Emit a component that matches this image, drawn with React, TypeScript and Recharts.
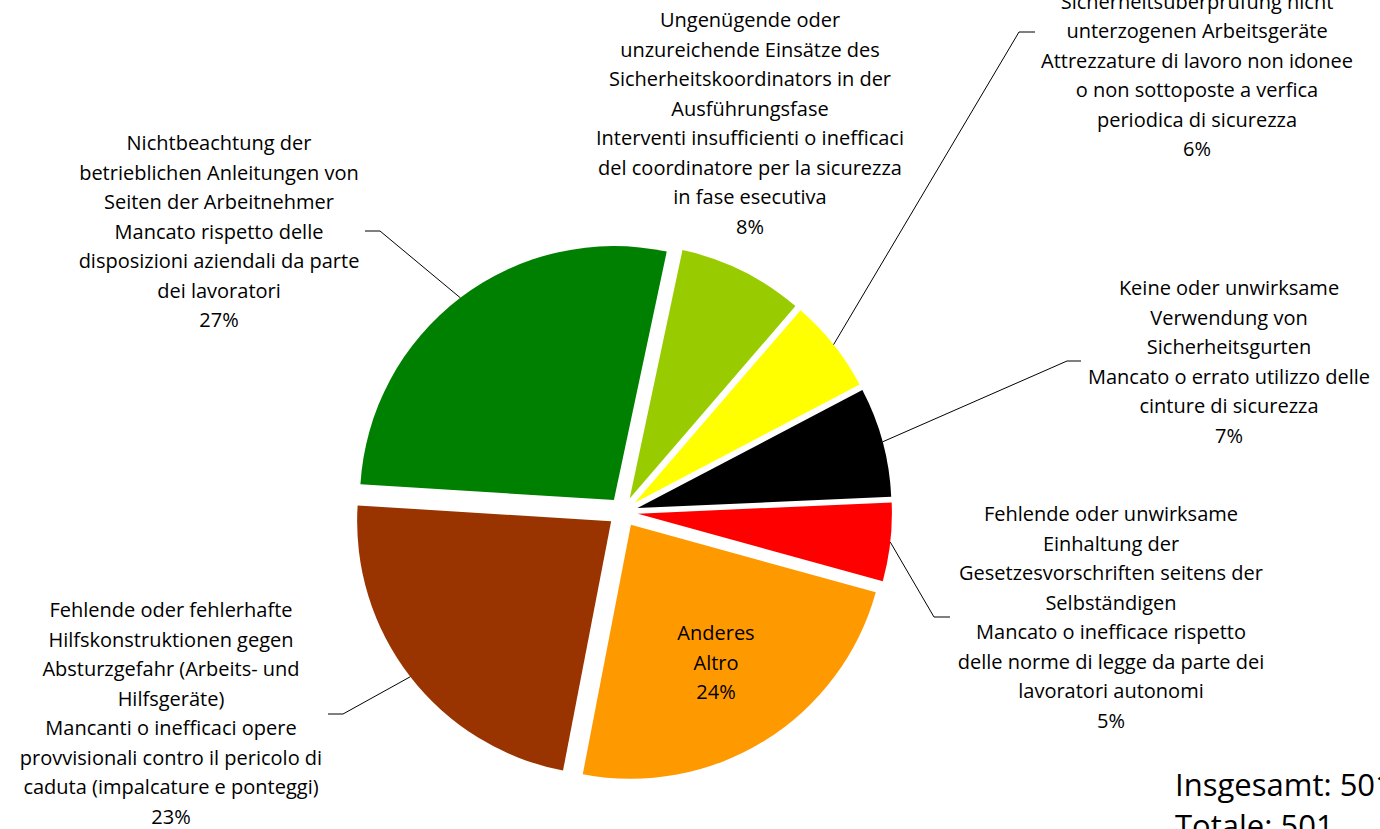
import React from 'react';
import { PieChart, Pie, Sector } from 'recharts';

// categories, clockwise starting just right of 12 o'clock
const categories = [
  'Koordinator',
  'Arbeitsgeräte',
  'Sicherheitsgurte',
  'Selbständige',
  'Anderes',
  'Hilfskonstruktionen',
  'Anleitungen',
];

const counts = [40, 30, 35, 25, 119, 115, 137];

const labelLines: string[][] = [
  [
    'Ungenügende oder',
    'unzureichende Einsätze des',
    'Sicherheitskoordinators in der',
    'Ausführungsfase',
    'Interventi insufficienti o inefficaci',
    'del coordinatore per la sicurezza',
    'in fase esecutiva',
  ],
  [
    'Ungeeignete oder der periodischen',
    'Sicherheitsüberprüfung nicht',
    'unterzogenen Arbeitsgeräte',
    'Attrezzature di lavoro non idonee',
    'o non sottoposte a verfica',
    'periodica di sicurezza',
  ],
  [
    'Keine oder unwirksame',
    'Verwendung von',
    'Sicherheitsgurten',
    'Mancato o errato utilizzo delle',
    'cinture di sicurezza',
  ],
  [
    'Fehlende oder unwirksame',
    'Einhaltung der',
    'Gesetzesvorschriften seitens der',
    'Selbständigen',
    'Mancato o inefficace rispetto',
    'delle norme di legge da parte dei',
    'lavoratori autonomi',
  ],
  ['Anderes', 'Altro'],
  [
    'Fehlende oder fehlerhafte',
    'Hilfskonstruktionen gegen',
    'Absturzgefahr (Arbeits- und',
    'Hilfsgeräte)',
    'Mancanti o inefficaci opere',
    'provvisionali contro il pericolo di',
    'caduta (impalcature e ponteggi)',
  ],
  [
    'Nichtbeachtung der',
    'betrieblichen Anleitungen von',
    'Seiten der Arbeitnehmer',
    'Mancato rispetto delle',
    'disposizioni aziendali da parte',
    'dei lavoratori',
  ],
];

const totalLines = ['Insgesamt: 501', 'Totale: 501'];

const COLORS = ['#99CC00', '#FFFF00', '#000000', '#FF0000', '#FF9900', '#993300', '#008000'];

// label block placement: centre x, first line centre y, optional leader elbow + end
const LABEL_LAYOUT = [
  { x: 750, y: 20, elbow: null, end: null },
  { x: 1197, y: -28, elbow: [1019, 32], end: [1035, 32] },
  { x: 1229, y: 288, elbow: [1067, 361], end: [1081, 361] },
  { x: 1111, y: 514, elbow: [934, 617], end: [950, 617] },
  { x: 716, y: 633, elbow: null, end: null },
  { x: 171, y: 610, elbow: [343, 714], end: [328, 714] },
  { x: 219, y: 143, elbow: [380, 231], end: [365, 231] },
];

const tableData = categories.map((name, i) => ({ name, value: counts[i] }));

const FONT = '"Open Sans", sans-serif';
const LINE_H = 29.5;
const EXPLODE = 15;
const RAD = Math.PI / 180;

const renderSlice = (props: any) => {
  const { cx, cy, innerRadius, outerRadius, startAngle, endAngle, midAngle, index, percent } = props;
  const dx = EXPLODE * Math.cos(midAngle * RAD);
  const dy = -EXPLODE * Math.sin(midAngle * RAD);
  const scx = cx + dx;
  const scy = cy + dy;
  const ax = scx + outerRadius * Math.cos(midAngle * RAD);
  const ay = scy - outerRadius * Math.sin(midAngle * RAD);
  const lay = LABEL_LAYOUT[index];
  const lines = [...labelLines[index], `${Math.round(percent * 100)}%`];
  return (
    <g key={`slice-${index}`}>
      <Sector
        cx={scx}
        cy={scy}
        innerRadius={innerRadius}
        outerRadius={outerRadius}
        startAngle={startAngle}
        endAngle={endAngle}
        fill={COLORS[index]}
        stroke="none"
      />
      {lay.elbow && lay.end && (
        <polyline
          points={`${ax},${ay} ${lay.elbow[0]},${lay.elbow[1]} ${lay.end[0]},${lay.end[1]}`}
          fill="none"
          stroke="#000"
          strokeWidth={1}
        />
      )}
      <text x={lay.x} y={lay.y} textAnchor="middle" fontFamily={FONT} fontSize={20} fill="#000">
        {lines.map((l, j) => (
          <tspan key={j} x={lay.x} y={lay.y + j * LINE_H} dy="0.35em">
            {l}
          </tspan>
        ))}
      </text>
    </g>
  );
};

export default function App() {
  return (
    <div
      style={{
        position: 'absolute',
        left: 0,
        top: 0,
        width: 1380,
        height: 829,
        overflow: 'hidden',
        background: '#fff',
      }}
    >
      <PieChart width={1380} height={829} margin={{ top: 0, right: 0, bottom: 0, left: 0 }}>
        <Pie
          data={tableData}
          dataKey="value"
          nameKey="name"
          cx={623}
          cy={512}
          outerRadius={254}
          startAngle={78}
          endAngle={-282}
          fill="none"
          stroke="none"
          label={renderSlice}
          labelLine={false}
          isAnimationActive={false}
        />
        <text x={1175} y={785} fontFamily={FONT} fontSize={31} fill="#000">
          {totalLines.map((l, j) => (
            <tspan key={j} x={1175} y={785 + j * 41} dy="0.35em">
              {l}
            </tspan>
          ))}
        </text>
      </PieChart>
    </div>
  );
}
